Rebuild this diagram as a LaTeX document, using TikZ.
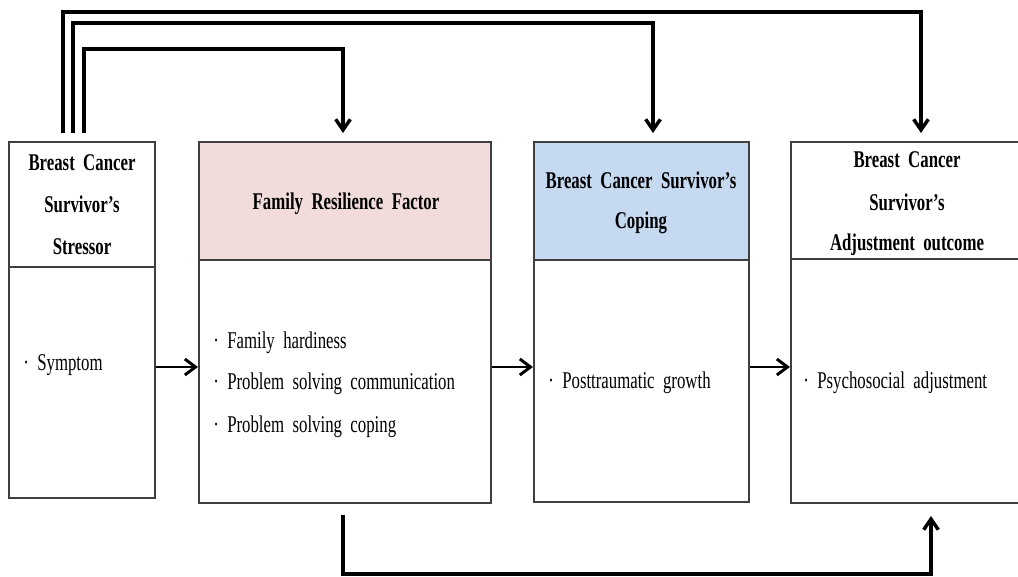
\documentclass[tikz,border=0pt]{standalone}
\usepackage{fontspec}
\setmainfont{Liberation Serif}[FakeStretch=0.7, WordSpace=2]
\usetikzlibrary{arrows.meta, fit}

\definecolor{rimgray}{HTML}{3F3F3F}
\definecolor{headpink}{HTML}{F2DCDB}
\definecolor{headblue}{HTML}{C5D9F1}

\tikzset{
  panel/.style={draw=rimgray, line width=1.6pt, inner sep=0pt},
  headtxt/.style={font=\fontsize{18}{20}\selectfont\bfseries, anchor=base, inner sep=0pt},
  itemtxt/.style={font=\fontsize{18}{20}\selectfont, anchor=base west, inner sep=0pt},
  flow/.style={line width=2.2pt, -{Straight Barb[length=8pt,width=12pt]}},
  link/.style={line width=2.6pt, line join=miter, -{Straight Barb[length=8pt,width=11pt]}},
}

\begin{document}
\begin{tikzpicture}[x=0.75pt, y=-0.75pt]
\useasboundingbox (0,0) rectangle (1018,576);
\clip (0,0) rectangle (1018,576);

% header cells
\node[panel, fit={(9,142)(155,267)}] (h1) {};
\node[panel, fill=headpink, fit={(199,142)(491,260)}] (h2) {};
\node[panel, fill=headblue, fit={(534,142)(749,260)}] (h3) {};
\node[panel, fit={(791,142)(1023,259)}] (h4) {};

% full panels
\node[panel, fit={(9,142)(155,498)}] (b1) {};
\node[panel, fit={(199,142)(491,503)}] (b2) {};
\node[panel, fit={(534,142)(749,502)}] (b3) {};
\node[panel, fit={(791,142)(1023,503)}] (b4) {};

% header texts
\node[headtxt] (t1a) at (82,170) {Breast Cancer};
\node[headtxt] (t1b) at (82,212) {Survivor’s};
\node[headtxt] (t1c) at (82,254) {Stressor};
\node[headtxt] (t2a) at (346,209) {Family Resilience Factor};
\node[headtxt] (t3a) at (641,188) {Breast Cancer Survivor’s};
\node[headtxt] (t3b) at (641,228) {Coping};
\node[headtxt] (t4a) at (907,167) {Breast Cancer};
\node[headtxt] (t4b) at (907,210) {Survivor’s};
\node[headtxt] (t4c) at (907,250) {Adjustment outcome};

% item lists
\node[itemtxt] (i1a) at (23,370) {· Symptom};
\node[itemtxt] (i2a) at (213,348) {· Family hardiness};
\node[itemtxt] (i2b) at (213,389) {· Problem solving communication};
\node[itemtxt] (i2c) at (213,432) {· Problem solving coping};
\node[itemtxt] (i3a) at (548,388) {· Posttraumatic growth};
\node[itemtxt] (i4a) at (803,388) {· Psychosocial adjustment};

% horizontal flow between panels
\coordinate (midrow) at (0,367);
\draw[flow] (b1.east |- midrow) -- (b2.west |- midrow);
\draw[flow] (b2.east |- midrow) -- (b3.west |- midrow);
\draw[flow] (b3.east |- midrow) -- (b4.west |- midrow);

% direct links from the stressor panel
\coordinate (s1) at (63,133);
\coordinate (s2) at (73,133);
\coordinate (s3) at (84,133);
\coordinate (e1) at (921,133);
\coordinate (e2) at (653,133);
\coordinate (e3) at (343,133);
\coordinate (lane1) at (0,12);
\coordinate (lane2) at (0,23);
\coordinate (lane3) at (0,49);
\draw[link] (s1) -- (s1 |- lane1) -- (e1 |- lane1) -- (e1);
\draw[link] (s2) -- (s2 |- lane2) -- (e2 |- lane2) -- (e2);
\draw[link] (s3) -- (s3 |- lane3) -- (e3 |- lane3) -- (e3);

% link from family resilience to adjustment outcome
\coordinate (s4) at (343,515);
\coordinate (e4) at (931,516);
\coordinate (lane4) at (0,574);
\draw[link] (s4) -- (s4 |- lane4) -- (e4 |- lane4) -- (e4);
\end{tikzpicture}
\end{document}
